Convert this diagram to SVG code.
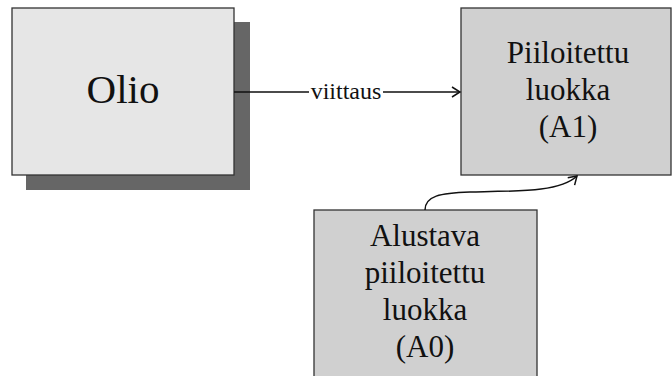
<svg xmlns="http://www.w3.org/2000/svg" width="672" height="376" viewBox="0 0 672 376">
<defs>
<style>
.box{stroke:#333;stroke-width:1.3}
.t{font-family:"Liberation Serif","Times New Roman",serif;fill:#111;text-anchor:middle}
.c{fill:none;stroke:#111;stroke-width:1.5}
</style>
<marker id="ah" markerWidth="12" markerHeight="12" refX="10" refY="6" orient="auto" markerUnits="userSpaceOnUse">
<path d="M2,1 L10,6 L2,11" fill="none" stroke="#111" stroke-width="1.5"/>
</marker>
</defs>
<rect width="672" height="376" fill="#fff"/>
<g id="olio">
<rect x="26" y="22" width="224" height="168" fill="#666"/>
<rect class="box" x="12" y="8" width="222" height="167" fill="#e6e6e6"/>
<text class="t" x="123" y="103" font-size="41">Olio</text>
</g>
<g id="a1">
<rect class="box" x="461" y="8" width="210" height="167" fill="#d0d0d0"/>
<text class="t" x="568" y="63" font-size="31">Piiloitettu</text>
<text class="t" x="568" y="100" font-size="31">luokka</text>
<text class="t" x="568" y="137" font-size="31">(A1)</text>
</g>
<g id="a0">
<rect class="box" x="314" y="210" width="223" height="175" fill="#d0d0d0"/>
<text class="t" x="425" y="246" font-size="31">Alustava</text>
<text class="t" x="425" y="283" font-size="31">piiloitettu</text>
<text class="t" x="425" y="320" font-size="31">luokka</text>
<text class="t" x="425" y="357" font-size="31">(A0)</text>
</g>
<g id="connectors">
<path class="c" d="M234,92 H309 M383,92 H460" marker-end="url(#ah)"/>
<text class="t" x="346" y="99" font-size="24">viittaus</text>
<path class="c" d="M425,210 C425,196 440,193 470,192 C520,191 560,192 577,176" marker-end="url(#ah)"/>
</g>
</svg>
